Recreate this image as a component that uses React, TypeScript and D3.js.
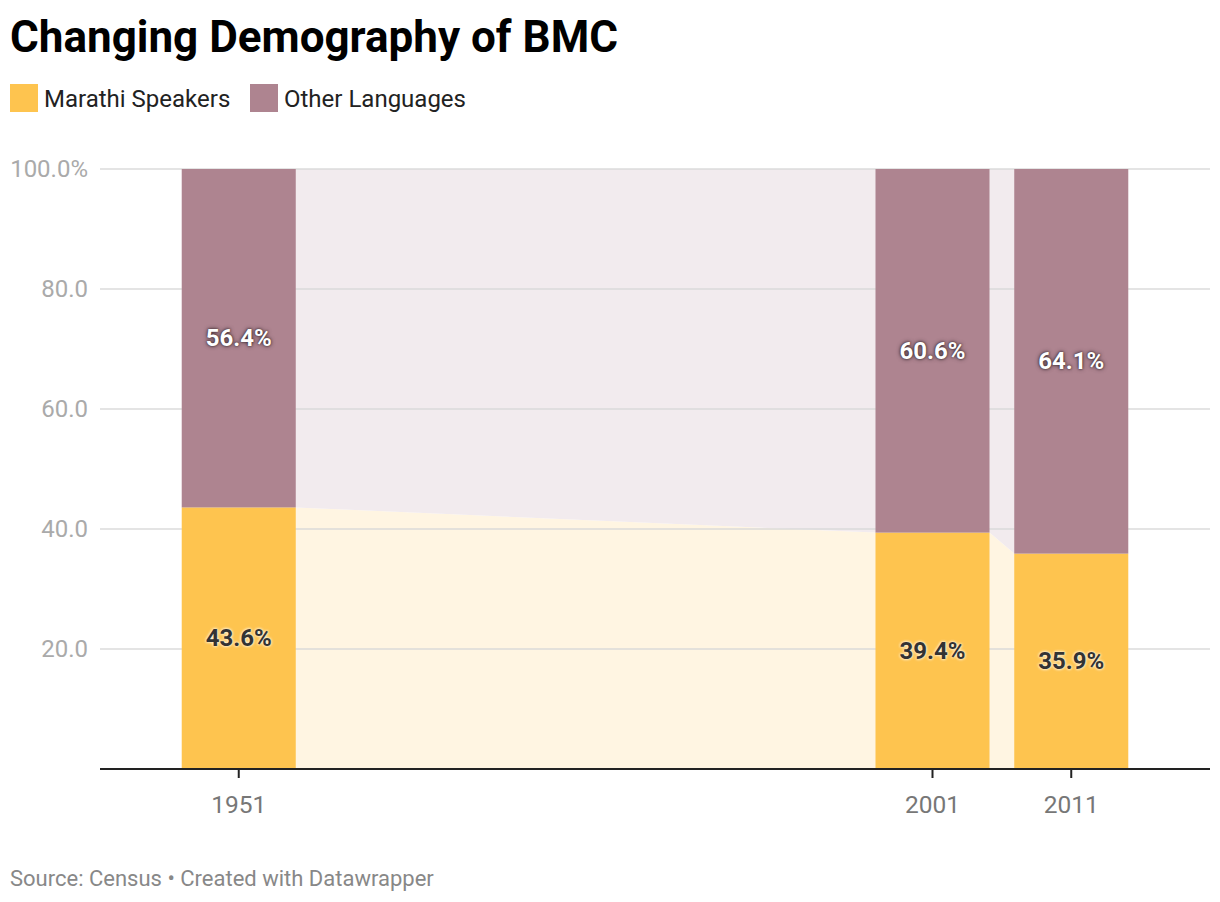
import React from "react";
import * as d3 from "d3";

const years = [1951, 2001, 2011];
const marathi = [43.6, 39.4, 35.9];
const others = [56.4, 60.6, 64.1];
const yTicks = [20, 40, 60, 80, 100];
const seriesNames = ["Marathi Speakers", "Other Languages"];
const seriesColors = ["#fec44f", "#ae8490"];
const areaColors = ["#fff5e2", "#f2ebee"];

const W = 1220;
const H = 902;
const M = { left: 100, right: 1210, top: 169, bottom: 769 };
const BAR_W = 114;
const FONT = "Roboto, 'Noto Sans', sans-serif";

export default function App() {
  const x = d3.scaleLinear().domain([1941, 2021]).range([M.left, M.right]);
  const y = d3.scaleLinear().domain([0, 100]).range([M.bottom, M.top]);

  type Pt = { px: number; m: number; t: number };
  const pts: Pt[] = [];
  years.forEach((yr, i) => {
    const cx = x(yr);
    pts.push({ px: cx - BAR_W / 2, m: marathi[i], t: marathi[i] + others[i] });
    pts.push({ px: cx + BAR_W / 2, m: marathi[i], t: marathi[i] + others[i] });
  });
  const areaM = d3
    .area<Pt>()
    .x((d) => d.px)
    .y0(() => y(0))
    .y1((d) => y(d.m));
  const areaO = d3
    .area<Pt>()
    .x((d) => d.px)
    .y0((d) => y(d.m))
    .y1((d) => y(d.t));

  const legendX = [10, 250];

  return (
    <svg width={W} height={H} style={{ display: "block", position: "absolute", left: 0, top: 0 }}>
      <rect width={W} height={H} fill="#fff" />
      <text x={10} y={52} fontFamily={FONT} fontWeight={700} fontSize={44} fill="#000">
        Changing Demography of BMC
      </text>
      {seriesNames.map((n, i) => {
        const lx = legendX[i];
        return (
          <g key={n}>
            <rect x={lx} y={84} width={28} height={28} fill={seriesColors[i]} />
            <text x={lx + 34} y={106.5} fontFamily={FONT} fontSize={24} fill="#222">
              {n}
            </text>
          </g>
        );
      })}

      <path d={areaM(pts) || ""} fill={areaColors[0]} />
      <path d={areaO(pts) || ""} fill={areaColors[1]} />

      {yTicks.map((t) => (
        <g key={t}>
          <line x1={M.left} x2={M.right} y1={y(t)} y2={y(t)} stroke="#d9d9d9" strokeOpacity={0.7} strokeWidth={2} />
          <text
            x={88}
            y={y(t)}
            textAnchor="end"
            dominantBaseline="central"
            fontFamily={FONT}
            fontSize={24}
            fill="#aaa"
          >
            {t === 100 ? "100.0%" : t.toFixed(1)}
          </text>
        </g>
      ))}

      {years.map((yr, i) => {
        const cx = x(yr);
        const m = marathi[i];
        const o = others[i];
        return (
          <g key={yr}>
            <rect x={cx - BAR_W / 2} y={y(m)} width={BAR_W} height={y(0) - y(m)} fill={seriesColors[0]} />
            <rect x={cx - BAR_W / 2} y={y(m + o)} width={BAR_W} height={y(m) - y(m + o)} fill={seriesColors[1]} />
            <text
              x={cx}
              y={(y(0) + y(m)) / 2}
              textAnchor="middle"
              dominantBaseline="central"
              fontFamily={FONT}
              fontWeight={700}
              fontSize={24}
              fill="#333"
              style={{ textShadow: "0 0 3px #fff8e8, 0 0 3px #fff8e8" }}
            >
              {m.toFixed(1)}%
            </text>
            <text
              x={cx}
              y={(y(m) + y(m + o)) / 2}
              textAnchor="middle"
              dominantBaseline="central"
              fontFamily={FONT}
              fontWeight={700}
              fontSize={24}
              fill="#fff"
              style={{ textShadow: "0 0 4px #3a2a30, 0 0 2px #3a2a30" }}
            >
              {o.toFixed(1)}%
            </text>
            <line x1={cx} x2={cx} y1={M.bottom} y2={M.bottom + 9} stroke="#222" strokeWidth={2} />
            <text
              x={cx}
              y={813}
              textAnchor="middle"
              fontFamily={FONT}
              fontSize={24.5}
              fill="#777"
            >
              {yr}
            </text>
          </g>
        );
      })}
      <line x1={M.left} x2={M.right} y1={M.bottom} y2={M.bottom} stroke="#222" strokeWidth={2} />

      <text x={10} y={886} fontFamily={FONT} fontSize={22} fill="#888">
        Source: Census • Created with Datawrapper
      </text>
    </svg>
  );
}
